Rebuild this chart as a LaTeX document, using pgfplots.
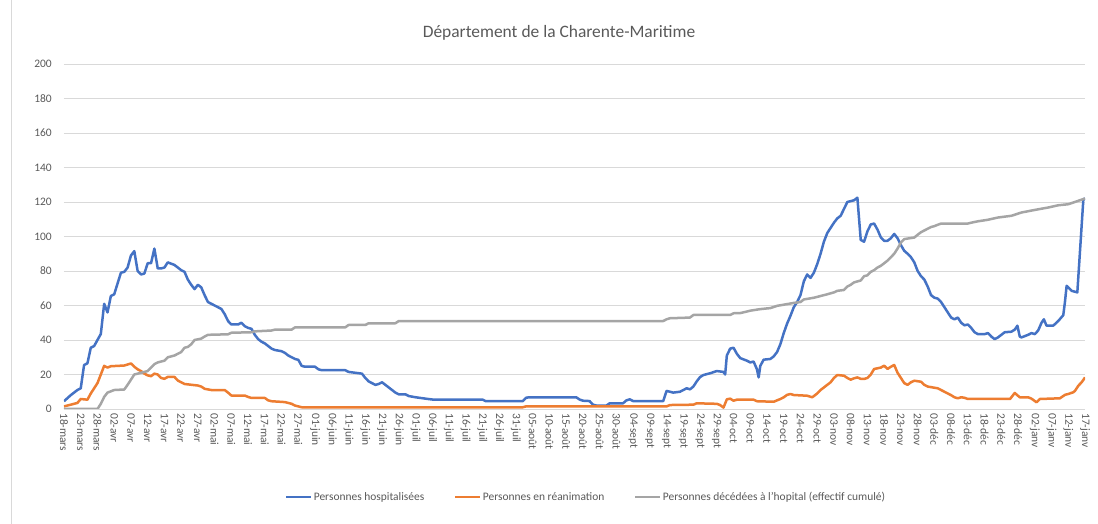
\documentclass[border=0pt]{standalone}
\usepackage{pgfplots}
\pgfplotsset{compat=1.18}
\usepackage{fontspec}
\setmainfont{Carlito}
\definecolor{txt}{HTML}{595959}
\definecolor{gridc}{HTML}{D9D9D9}
\definecolor{cblue}{HTML}{4472C4}
\definecolor{corange}{HTML}{ED7D31}
\definecolor{cgray}{HTML}{A5A5A5}
\begin{document}
\begin{tikzpicture}[x=1bp,y=1bp]
% origin = lower left corner of the plot area (pixel 64,409 of the reference)
\path[use as bounding box] (-64,-115) rectangle (1034,409);
\draw[gridc, line width=0.8bp] (-53,-115) -- (-53,409);
\node[text=txt, font=\fontsize{17.5}{20}\selectfont] at (495,376) {Département de la Charente-Maritime};
\begin{axis}[
  at={(0,0)}, anchor=south west, scale only axis,
  width=1021bp, height=345bp,
  xmin=0, xmax=305, ymin=0, ymax=200,
  axis line style={draw=none},
  major tick length=0pt,
  ymajorgrids, major grid style={gridc, line width=0.8bp},
  ytick={0,20,...,200},
  xtick={0,5,...,305},
  xticklabels={18-mars,23-mars,28-mars,02-avr,07-avr,12-avr,17-avr,22-avr,27-avr,02-mai,07-mai,12-mai,17-mai,22-mai,27-mai,01-juin,06-juin,11-juin,16-juin,21-juin,26-juin,01-juil,06-juil,11-juil,16-juil,21-juil,26-juil,31-juil,05-août,10-août,15-août,20-août,25-août,30-août,04-sept,09-sept,14-sept,19-sept,24-sept,29-sept,04-oct,09-oct,14-oct,19-oct,24-oct,29-oct,03-nov,08-nov,13-nov,18-nov,23-nov,28-nov,03-déc,08-déc,13-déc,18-déc,23-déc,28-déc,02-janv,07-janv,12-janv,17-janv},
  /pgf/number format/assume math mode=true,
  tick label style={text=txt, font=\fontsize{11.5}{13}\selectfont},
  yticklabel style={anchor=east, inner sep=0pt, xshift=-12bp},
  xticklabel style={rotate=-90, anchor=west, inner xsep=4bp, inner ysep=0pt},
  legend columns=3,
  legend style={at={(0.511,-0.255)}, anchor=center, draw=none, fill=none,
    inner sep=0pt,
    nodes={inner sep=1.5bp, font=\fontsize{11.5}{13}\selectfont, text=txt},
    /tikz/every even column/.append style={column sep=28bp}},
  legend image code/.code={\draw[#1] (0bp,0bp) -- (25bp,0bp);},
  every axis plot/.append style={line width=2.5bp, line join=round, mark=none},
]
\addplot[cblue] coordinates {
(0,4.5) (2,8) (4,11) (5,12) (6,25.5) (7,26.5) (8,35.5) (9,36.5) (11,43.5) (12,61) (13,56) (14,65.5) (15,66.5) (17,79) (18,79.5) (19,82) (20,89) (21,91.5) (22,80) (23,78) (24,78.5) (25,84.5) (26,84.5) (27,93) (28,81.5) (29,81.5) (30,82) (31,85) (33,83.5) (34,82) (35,80.5) (36,79.5) (37,75) (38,72) (39,69.5) (40,72) (41,70.5) (42,66) (43,62) (45,60) (47,58) (48,55) (49,51) (50,49) (52,49) (53,50) (54,48) (55,47) (56,46.5) (57,43) (58,40.5) (59,39) (60,38) (61,36.5) (62,35) (63,34.2) (65,33.5) (66,32.5) (67,31) (68,30) (69,29) (70,28.5) (71,25) (72,24.5) (75,24.5) (76,23) (77,22.5) (84,22.5) (85,21.5) (87,21) (89,20.5) (90,18) (91,16) (92,15) (93,14) (94,14.5) (95,15.5) (96,14) (97,12.5) (98,11) (99,9.5) (100,8.5) (102,8.5) (103,7.5) (105,6.8) (108,6) (110,5.5) (125,5.5) (126,4.5) (137,4.5) (138,6.5) (139,6.8) (153,6.8) (154,5.5) (155,4.8) (157,4.6) (158,2.5) (159,2) (162,2) (163,3.3) (167,3.3) (168,5) (169,5.6) (170,4.6) (179,4.6) (180,10.5) (181,10) (182,9.5) (184,10) (185,11) (186,12) (187,11.4) (188,13) (189,16) (190,18.5) (191,19.7) (193,20.7) (195,22) (197,21.5) (197.5,20) (198,31) (199,35) (200,35.5) (201,32) (202,29.5) (204,28) (205,27) (206,27.5) (207,23) (207.5,18.3) (208,25) (209,28.6) (211,29) (212,30.5) (213,33) (214,37.6) (215,44) (216,49.5) (217,54) (218,59) (219,62) (220,66) (221,74) (222,78) (223,76) (224,79) (225,84) (226,90) (227,97) (228,102) (229,105) (230,108) (231,110.5) (232,112) (233,116) (234,120) (235,120.5) (236,121) (237,122.5) (238,98) (239,97) (240,103) (241,107) (242,107.5) (243,104) (244,99.5) (245,97.5) (246,97.5) (247,99) (248,101.5) (249,99) (250,95) (251,91.7) (252,90) (253,88) (254,85) (255,80) (256,77) (257,75) (258,71) (259,66) (260,64.5) (261,64) (262,62) (263,59) (264,56) (265,53) (266,52) (267,53) (268,50) (269,48.5) (270,49) (271,47) (272,44.5) (273,43.4) (275,43.4) (276,44) (277,42) (278,40.5) (279,41.5) (280,43) (281,44.5) (283,44.8) (284,46) (284.8,48.3) (285.5,42) (286,41.5) (288,43) (289,44) (290,43.4) (291,45.5) (292,50) (292.7,52) (293.5,48.3) (295.5,48.3) (297,51) (298.5,54.4) (299,62) (299.5,71.4) (301,68.5) (302.7,67.6) (304.5,121.6) (305,122)
};
\addlegendentry{Personnes hospitalisées}
\addplot[corange] coordinates {
(0,1.5) (2,2.5) (4,3.5) (5,5.8) (7,5.4) (8,9) (9,12) (10,15) (11,20) (12,25) (13,24) (14,24.8) (18,25.2) (20,26.4) (21,24.5) (22,23) (23,22) (24,20.5) (25,19.5) (26,19) (27,20.5) (28,20) (29,18) (30,17.5) (31,18.6) (33,18.6) (34,16.5) (35,15.5) (36,14.5) (40,13.6) (41,13) (42,11.7) (44,11) (48,11) (49,9.5) (50,7.8) (54,7.8) (55,7) (56,6.4) (60,6.4) (61,5) (62,4.5) (66,4) (68,3) (69,2) (70,1.5) (71,1) (137,1) (138,1.5) (180,1.5) (181,2.3) (188,2.5) (189,3.3) (195,3) (196,2.3) (197,0.8) (198,5.6) (199,6) (200,4.8) (201,5.4) (206,5.4) (207,4.5) (212,4.2) (213,5) (214,5.8) (215,6.8) (216,8.2) (217,8.7) (218,8.1) (222,7.7) (223.5,6.8) (224,7.5) (225,9) (226,11) (227,12.5) (228,14) (229,15.5) (230,18) (231,19.7) (233,19.3) (234,18) (235,17) (236,17.8) (237,18.3) (238,17.5) (239,17.4) (240,18) (241,20) (242,23.2) (243,23.6) (244,24) (245,25.1) (246,23.2) (247,24.5) (248,25.5) (249,21) (250,18) (251,15) (252,14) (253,15.5) (254,16.4) (256,15.8) (257,14) (258,13) (261,12) (262,11) (263,10) (264,9) (265,8) (266,6.8) (267,6.2) (268,6.8) (269,6.5) (270,5.8) (282.6,5.8) (284,9.3) (285.5,6.8) (288,6.8) (289,6) (290.5,3.9) (291.5,5.8) (297.5,6.2) (299,8.2) (300,8.7) (301.5,9.7) (302,10.5) (303,13.5) (304,15.5) (305,18.3)
};
\addlegendentry{Personnes en réanimation}
\addplot[cgray] coordinates {
(0,0) (10,0) (11,3) (12,7) (13,9.5) (15,11) (18,11.3) (19,14) (20,17) (21,20) (23,21) (25,22) (26,24) (27,26) (28,27) (30,28) (31,30) (33,31) (35,33) (36,35.5) (37,36) (38,37.5) (39,40) (41,40.8) (42,42) (43,43) (49,43.3) (50,44.2) (56,44.5) (57,45) (62,45.5) (63,46) (68,46) (69,47.3) (84,47.3) (85,48.7) (90,48.7) (91,49.7) (99,49.7) (100,51) (179,51) (180,52) (181,52.6) (187,53) (188,54.5) (199,54.5) (200,55.5) (202,55.6) (204,56.5) (205,57) (208,57.9) (211,58.5) (213,59.8) (216,60.8) (218,61.5) (220,62) (221,63.5) (224,64.5) (226,65.5) (228,66.5) (230,67.6) (231,68.5) (233,69) (234,71) (235,72) (236,73.4) (238,74.5) (239,77) (240,77.5) (241,79.5) (242,80.5) (243,82) (244,83) (245,84.5) (246,86) (247,88) (248,90) (249,93) (250,96.5) (251,98.5) (252,98.8) (254,99.4) (255,101) (256,102.5) (257,103.5) (258,104.5) (259,105.5) (260,106) (261,106.8) (262,107.5) (270,107.5) (271,108) (273,108.8) (276,109.7) (279,111) (283,112) (286,113.9) (290,115.4) (294,116.8) (297,118.1) (300,118.7) (303,120.7) (305,122)
};
\addlegendentry{Personnes décédées à l'hopital (effectif cumulé)}
\end{axis}
\end{tikzpicture}
\end{document}
